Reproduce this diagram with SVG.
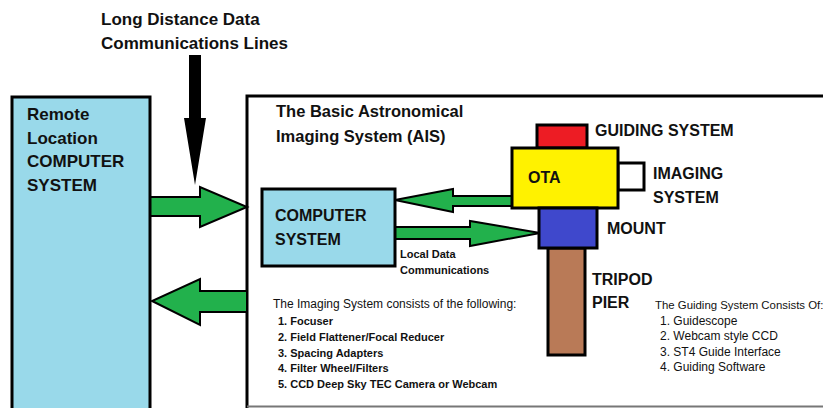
<svg xmlns="http://www.w3.org/2000/svg" width="823" height="408" viewBox="0 0 823 408">
  <style>
    text { font-family: "Liberation Sans", Arial, sans-serif; fill: #111; }
    .b { font-weight: bold; }
    .big { font-size: 17px; font-weight: bold; }
    .mid { font-size: 16px; font-weight: bold; }
    .sm { font-size: 11px; font-weight: bold; }
    .reg { font-size: 12px; }
    .box { stroke: #000; stroke-width: 3; }
    .garrow { fill: #22B14C; stroke: #000; stroke-width: 2; stroke-linejoin: miter; }
  </style>

  <rect width="823" height="408" fill="#fff"/>

  <!-- heading for the incoming lines -->
  <g id="long-distance-label">
    <text class="big" x="101" y="25">Long Distance Data</text>
    <text class="big" x="101" y="49">Communications Lines</text>
  </g>

  <!-- enclosing AIS frame -->
  <g id="ais-frame">
    <path d="M247 408 V96 H830" fill="none" stroke="#000" stroke-width="3"/>
    <line x1="247" y1="406.5" x2="823" y2="406.5" stroke="#777" stroke-width="2"/>
    <text class="mid" x="276" y="117" style="font-size:16.5px">The Basic Astronomical</text>
    <text class="mid" x="276" y="142" style="font-size:16.5px">Imaging System (AIS)</text>
  </g>

  <!-- connectors -->
  <g id="connectors">
    <polygon points="189,55 201,55 201,118 206,118 195,185 184,118 189,118" fill="#000"/>
    <polygon class="garrow" points="150,197 200,197 200,187 247,207 200,227 200,216 150,216"/>
    <polygon class="garrow" points="247,291 200,291 200,279 152,301 200,325 200,312 247,312"/>
    <polygon class="garrow" points="513,196 453,196 453,189 395,200 453,212 453,206 513,206"/>
    <polygon class="garrow" points="395,227 470,227 470,221 540,233 470,246 470,239 395,239"/>
  </g>

  <g id="remote-computer">
    <rect class="box" x="12" y="97" width="138" height="320" fill="#99D9EA"/>
    <text class="big" x="27" y="120">Remote</text>
    <text class="big" x="27" y="144">Location</text>
    <text class="big" x="27" y="167">COMPUTER</text>
    <text class="big" x="27" y="191">SYSTEM</text>
  </g>

  <g id="local-computer">
    <rect class="box" x="262" y="189" width="133" height="77" fill="#99D9EA"/>
    <text class="mid" x="275" y="221">COMPUTER</text>
    <text class="mid" x="275" y="245">SYSTEM</text>
  </g>

  <g id="local-data-label">
    <text class="sm" x="400" y="258">Local Data</text>
    <text class="sm" x="400" y="274">Communications</text>
  </g>

  <g id="guiding-system">
    <rect class="box" x="537" y="125" width="50" height="23" fill="#ED1C24"/>
    <text class="mid" x="595" y="136">GUIDING SYSTEM</text>
  </g>

  <g id="imaging-system">
    <rect class="box" x="618" y="163" width="26" height="27" fill="#fff"/>
    <text class="mid" x="653" y="179">IMAGING</text>
    <text class="mid" x="653" y="203">SYSTEM</text>
  </g>

  <g id="ota">
    <rect class="box" x="512" y="148" width="106" height="60" fill="#FFF200"/>
    <text class="mid" x="528" y="183">OTA</text>
  </g>

  <g id="pier">
    <rect class="box" x="548" y="248" width="37" height="107" fill="#B97A57"/>
    <text class="mid" x="592" y="285">TRIPOD</text>
    <text class="mid" x="592" y="308">PIER</text>
  </g>

  <g id="mount">
    <rect class="box" x="539" y="208" width="58" height="40" fill="#3F48CC"/>
    <text class="mid" x="607" y="234">MOUNT</text>
  </g>

  <g id="imaging-list">
    <text class="reg" x="273" y="308">The Imaging System consists of the following:</text>
    <text class="sm" x="278" y="325">1. Focuser</text>
    <text class="sm" x="278" y="341">2. Field Flattener/Focal Reducer</text>
    <text class="sm" x="278" y="357">3. Spacing Adapters</text>
    <text class="sm" x="278" y="372">4. Filter Wheel/Filters</text>
    <text class="sm" x="278" y="388">5. CCD Deep Sky TEC Camera or Webcam</text>
  </g>

  <g id="guiding-list">
    <text class="reg" x="655" y="309" style="font-size:11.4px">The Guiding System Consists Of:</text>
    <text class="reg" x="660" y="325">1. Guidescope</text>
    <text class="reg" x="660" y="340">2. Webcam style CCD</text>
    <text class="reg" x="660" y="356">3. ST4 Guide Interface</text>
    <text class="reg" x="660" y="371">4. Guiding Software</text>
  </g>
</svg>
